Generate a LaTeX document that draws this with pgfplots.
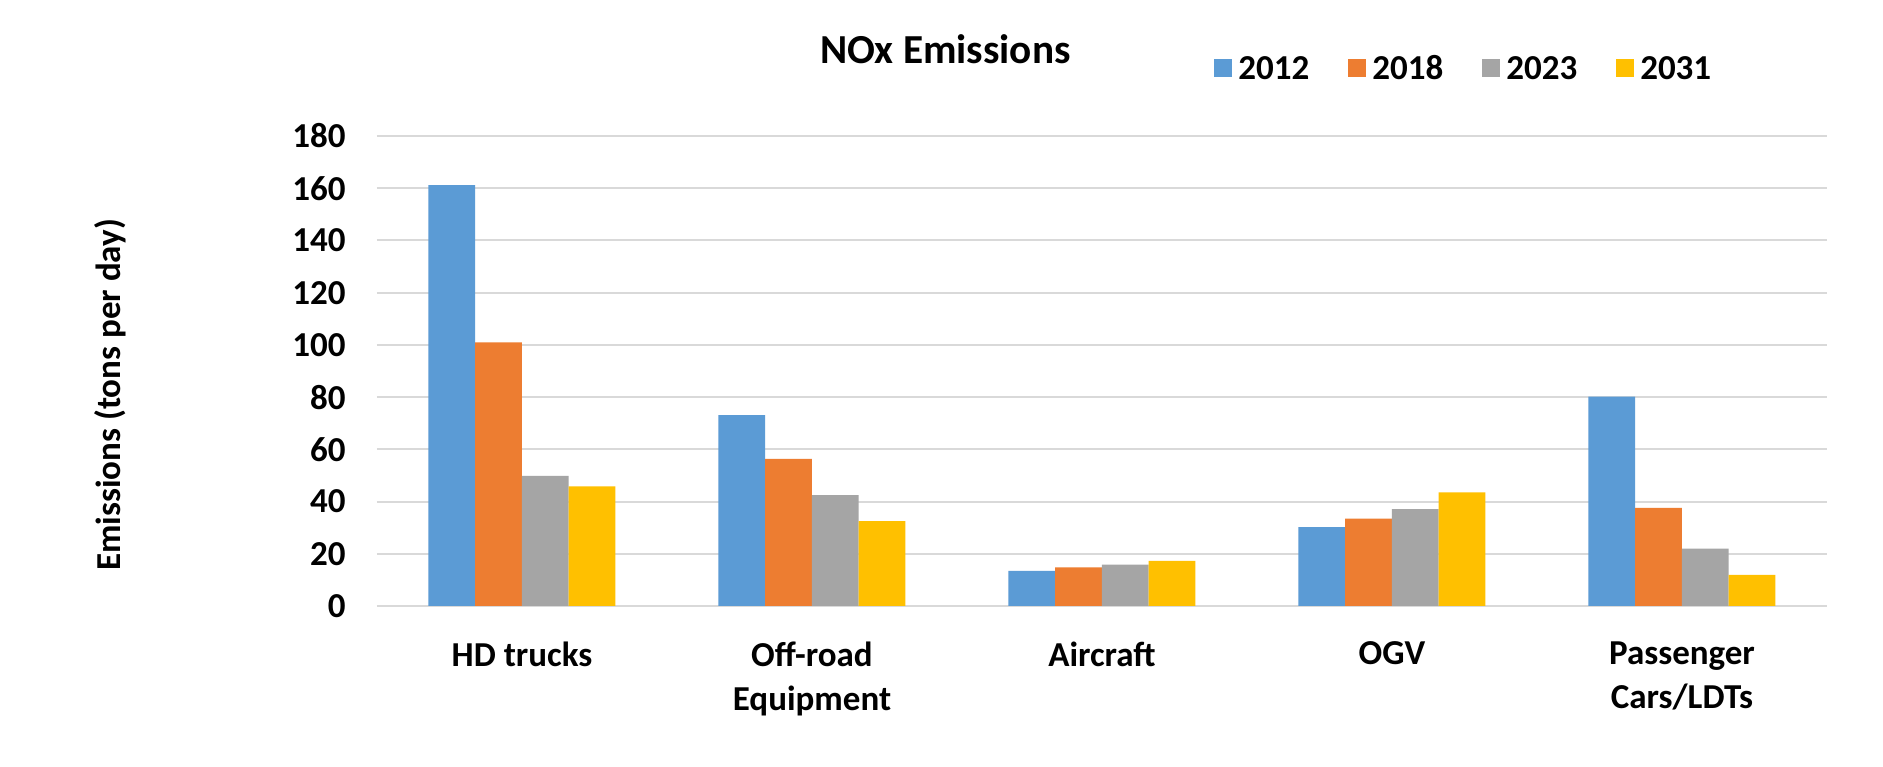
\documentclass[border=0pt]{standalone}
\usepackage{fontspec}
\setmainfont{Carlito}
\usepackage{pgfplots}
\pgfplotsset{compat=1.18}

\definecolor{c2012}{HTML}{5B9BD5}
\definecolor{c2018}{HTML}{ED7D31}
\definecolor{c2023}{HTML}{A5A5A5}
\definecolor{c2031}{HTML}{FFC000}
\definecolor{gridgray}{HTML}{D9D9D9}

\begin{document}
\begin{tikzpicture}
\fill[white] (0,0) rectangle (753.2pt,306.8pt);
\useasboundingbox (0,0) rectangle (753.2pt,306.8pt);
\begin{axis}[
    at={(150.8pt,64.4pt)}, anchor=south west,
    scale only axis,
    width=580pt, height=188pt,
    ybar=0pt, bar width=18.7pt,
    xmin=-0.5, xmax=4.5,
    ymin=0, ymax=180,
    ytick={0,20,...,180},
    xtick=data,
    xticklabels={HD trucks, Off-road\\Equipment, Aircraft, OGV, Passenger\\Cars/LDTs},
    major tick length=0pt,
    axis line style={draw=none},
    ymajorgrids=true,
    grid style={gridgray, line width=0.8pt},
    /pgf/number format/assume math mode=true,
    yticklabel style={font=\fontsize{14}{17}\selectfont\bfseries, inner sep=0pt, xshift=-12.4pt},
    xticklabel style={font=\fontsize{14}{17.8}\selectfont\bfseries, align=center, anchor=north, inner sep=0pt, yshift=-14pt},
    ylabel={Emissions (tons per day)},
    ylabel style={font=\fontsize{14}{17}\selectfont\bfseries, at={(axis description cs:-0.184,0.449)}, anchor=center},
    title={NOx Emissions},
    title style={font=\fontsize{16.5}{20}\selectfont\bfseries, at={(axis description cs:0.392,1.152)}, anchor=center},
    legend columns=4,
    legend style={draw=none, fill=none, at={(axis description cs:0.577,1.145)}, anchor=west,
        font=\fontsize{14}{17}\selectfont\bfseries, inner sep=0pt,
        /tikz/every even column/.append style={column sep=13pt},
        nodes={inner sep=2.5pt, text height=9.6pt, text depth=0pt}},
    legend image code/.code={\fill[#1,draw=none] (0pt,-3.6pt) rectangle (7.2pt,3.6pt);},
]
\addplot[fill=c2012, draw=none] coordinates {(0,161.2) (1,73.1) (2,13.4) (3,30.2) (4,80.2)};
\addlegendentry{2012}
\addplot[fill=c2018, draw=none] coordinates {(0,101.0) (1,56.3) (2,14.8) (3,33.5) (4,37.6)};
\addlegendentry{2018}
\addplot[fill=c2023, draw=none] coordinates {(0,49.8) (1,42.5) (2,15.8) (3,37.1) (4,22.0)};
\addlegendentry{2023}
\addplot[fill=c2031, draw=none] coordinates {(0,45.8) (1,32.5) (2,17.3) (3,43.5) (4,11.9)};
\addlegendentry{2031}
\end{axis}
\end{tikzpicture}
\end{document}
